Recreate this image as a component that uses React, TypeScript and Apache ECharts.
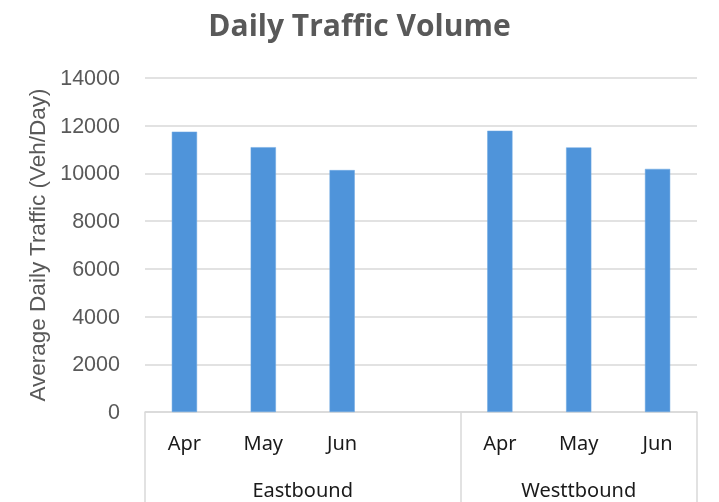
import React, { useEffect, useRef } from "react";
import * as echarts from "echarts";

const months = ["Apr", "May", "Jun", "", "Apr", "May", "Jun"];
const traffic = [11750, 11100, 10140, null, 11790, 11090, 10190];
const groups = ["Eastbound", "Westtbound"];
const groupCenters = [2, 5.5];
const groupBoundaries = [0, 4];
const yTicks = { min: 0, max: 14000, interval: 2000 };

export default function App() {
  const ref = useRef<HTMLDivElement>(null);
  useEffect(() => {
    if (!ref.current) return;
    const chart = echarts.init(ref.current, null, { renderer: "svg" });
    const grey = "#595959";
    chart.setOption({
      animation: false,
      title: {
        text: "Daily Traffic Volume",
        left: "center",
        top: 4,
        textStyle: { fontFamily: "Open Sans", fontWeight: "bold", fontSize: 30, color: grey },
      },
      grid: { left: 145, right: 22, top: 78, bottom: 90 },
      xAxis: [
        {
          type: "category",
          data: months,
          position: "bottom",
          axisLine: { show: true, lineStyle: { color: "#d9d9d9", width: 1.5 } },
          axisTick: {
            show: true,
            length: 92,
            interval: (i: number) => groupBoundaries.includes(i),
            lineStyle: { color: "#d9d9d9", width: 1.5 },
          },
          axisLabel: {
            interval: 0,
            margin: 20,
            fontFamily: "Noto Sans",
            fontSize: 20,
            color: "#1a1a1a",
          },
        },
        {
          type: "value",
          min: 0,
          max: months.length,
          interval: 0.5,
          position: "bottom",
          axisLine: { show: false },
          axisTick: { show: false },
          splitLine: { show: false },
          axisLabel: {
            margin: 67,
            fontFamily: "Noto Sans",
            fontSize: 20,
            color: "#1a1a1a",
            hideOverlap: false,
            formatter: (v: number) => {
              const k = groupCenters.indexOf(v);
              return k >= 0 ? groups[k] : "";
            },
          },
        },
      ],
      yAxis: {
        type: "value",
        min: yTicks.min,
        max: yTicks.max,
        interval: yTicks.interval,
        name: "Average Daily Traffic (Veh/Day)",
        nameLocation: "middle",
        nameGap: 94,
        nameTextStyle: { fontFamily: "Liberation Sans", fontSize: 22.5, color: grey },
        axisLine: { show: false },
        axisTick: { show: false },
        axisLabel: {
          fontFamily: "Liberation Sans",
          fontSize: 21.5,
          color: grey,
          margin: 25,
          formatter: (v: number) => String(v),
        },
        splitLine: { lineStyle: { color: "#d9d9d9", width: 1.5 } },
      },
      series: [
        {
          type: "bar",
          xAxisIndex: 0,
          data: traffic,
          barWidth: "32%",
          itemStyle: { color: "#4f94da", borderColor: "#6ea8e2", borderWidth: 0.5 },
        },
      ],
    });
    return () => chart.dispose();
  }, []);
  return (
    <div
      ref={ref}
      style={{ position: "fixed", left: 0, top: 0, width: 719, height: 502 }}
    />
  );
}
